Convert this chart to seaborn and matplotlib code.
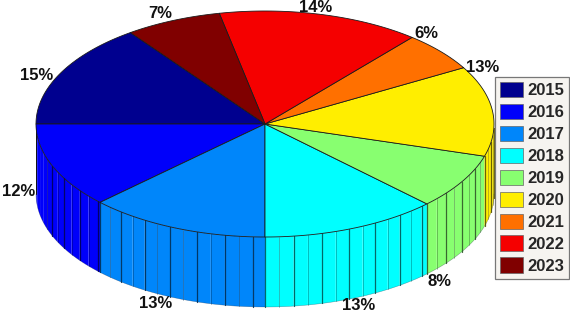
import numpy as np
import matplotlib.pyplot as plt
import seaborn as sns
from matplotlib.patches import Patch

# 数据
years = ['2015', '2016', '2017', '2018', '2019', '2020', '2021', '2022', '2023']
shares = [15.0, 12.2, 12.8, 12.5, 7.9, 12.9, 5.6, 14.3, 6.8]
labels = ['15%', '12%', '13%', '13%', '8%', '13%', '6%', '14%', '7%']
colors = ['#00008f', '#0000fa', '#0086fa', '#00ffff', '#88ff70',
          '#ffee00', '#ff7000', '#f50000', '#800000']

sns.set_theme(style='white')
plt.rcParams['font.family'] = ['Liberation Sans', 'DejaVu Sans']
palette = sns.color_palette(colors)

# 画布按像素坐标
fig = plt.figure(figsize=(5.70, 3.14), dpi=100)
ax = fig.add_axes([0, 0, 1, 1])
ax.set_xlim(0, 570)
ax.set_ylim(314, 0)
ax.axis('off')

cx, cy, rx, ry = 265, 124, 229, 113
depth = 70
start = 126
step = 3.6


def rim(deg):
    t = np.radians(deg)
    return cx + rx * np.cos(t), cy - ry * np.sin(t)


angles = start + np.cumsum([0] + shares) * 3.6

# 侧面
for i, color in enumerate(palette):
    a0, a1 = angles[i], angles[i + 1]
    edges = np.append(np.arange(a0, a1, step), a1)
    line_color = np.array(color) * 0.35
    for k in range(len(edges) - 1):
        lo, hi = edges[k], edges[k + 1]
        if np.sin(np.radians((lo + hi) / 2)) > 0:
            continue
        ts = np.linspace(lo, hi, 4)
        xs, ys = rim(ts)
        ax.fill(np.r_[xs, xs[::-1]], np.r_[ys, ys[::-1] + depth],
                color=color, lw=0, zorder=2)
        if lo < 196:  # 左边缘线太密，原图看不出
            continue
        strong = k % 2 == 0
        ax.plot([xs[0], xs[0]], [ys[0], ys[0] + depth], color=line_color,
                lw=0.9 if strong else 0.5, alpha=0.9 if strong else 0.55, zorder=3)

# 侧面底边
ts = np.linspace(180, 360, 200)
xs, ys = rim(ts)
ax.plot(xs, ys + depth, color='#10203a', lw=0.4, alpha=0.4, zorder=4)
ax.plot([xs[0], xs[0]], [ys[0], ys[0] + depth], color='#111111', lw=0.7, zorder=4)

# 顶面
for i, color in enumerate(palette):
    ts = np.linspace(angles[i], angles[i + 1], 80)
    xs, ys = rim(ts)
    ax.fill(np.r_[cx, xs], np.r_[cy, ys], facecolor=color, edgecolor='#1a1a1a',
            lw=0.6, joinstyle='round', zorder=5)

# 百分比标签
label_xy = [(37, 75), (19, 192), (156, 304), (359, 305), (440, 281),
            (483, 67), (426, 34), (316, 7), (160, 14)]
for text, (x, y) in zip(labels, label_xy):
    ax.text(x, y, text, ha='center', va='center', fontsize=12,
            fontweight='bold', color='#111111', zorder=6)

handles = [Patch(facecolor=c, edgecolor='#666666', lw=0.5) for c in palette]
leg = ax.legend(handles, years, loc='upper left', bbox_to_anchor=(495 / 570, 1 - 77 / 314),
                borderaxespad=0, frameon=True, fancybox=False,
                prop={'weight': 'bold', 'size': 12}, handlelength=1.4, handleheight=1.05,
                handletextpad=0.25, labelspacing=0.33, borderpad=0.3)
leg.get_frame().set_edgecolor('#777777')
leg.get_frame().set_facecolor('#f6f4f0')
leg.get_frame().set_linewidth(0.9)
leg.get_frame().set_alpha(1)
leg.set_zorder(7)

fig.savefig('out.png', dpi=100)
